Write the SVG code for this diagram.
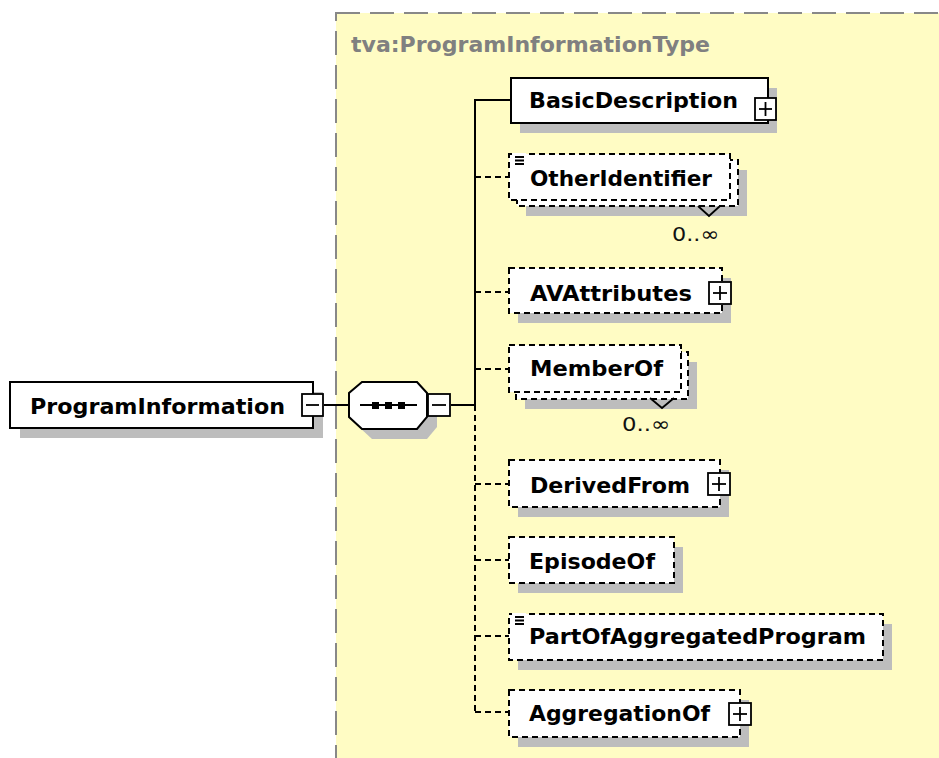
<svg xmlns="http://www.w3.org/2000/svg" width="939" height="758" viewBox="0 0 939 758">
<style>
.lbl{font-family:"DejaVu Sans","Liberation Sans",sans-serif;font-weight:bold;font-size:22px;fill:#000}
.title{font-family:"DejaVu Sans","Liberation Sans",sans-serif;font-weight:bold;font-size:22px;fill:#808080}
.card{font-family:"DejaVu Sans","Liberation Sans",sans-serif;font-size:20px;fill:#111}
.box{fill:#fff;stroke:#000;stroke-width:2}
.opt{fill:#fff;stroke:#000;stroke-width:2;stroke-dasharray:6 4}
.sh{fill:#bdbdbd}
.btn{fill:#fff;stroke:#000;stroke-width:1.8}
.sol{stroke:#000;stroke-width:2;fill:none}
.dsh{stroke:#000;stroke-width:2;fill:none;stroke-dasharray:6 4}
.thin{stroke:#000;stroke-width:1.8;fill:none}
</style>
<rect x="0" y="0" width="939" height="758" fill="#fff"/>
<g id="type-region">
<rect x="336" y="13" width="700" height="800" fill="#fffcc4" stroke="#888" stroke-width="2" stroke-dasharray="24 10"/>
<text class="title" x="351" y="52" textLength="359" lengthAdjust="spacingAndGlyphs">tva:ProgramInformationType</text>
</g>
<g id="connectors">
<line class="sol" x1="324" y1="405" x2="349" y2="405"/>
<line class="sol" x1="451" y1="405" x2="475" y2="405"/>
<polyline class="sol" points="511,100 475,100 475,405"/>
<line class="dsh" x1="475" y1="405" x2="475" y2="712"/>
<line class="dsh" x1="475" y1="177" x2="509" y2="177"/>
<line class="dsh" x1="475" y1="292" x2="509" y2="292"/>
<line class="dsh" x1="475" y1="369" x2="509" y2="369"/>
<line class="dsh" x1="475" y1="484" x2="509" y2="484"/>
<line class="dsh" x1="475" y1="560" x2="509" y2="560"/>
<line class="dsh" x1="475" y1="636" x2="509" y2="636"/>
<line class="dsh" x1="475" y1="712" x2="509" y2="712"/>
</g>
<g id="ProgramInformation">
<rect class="sh" x="20" y="392" width="303" height="46"/>
<rect class="box" x="10" y="382" width="303" height="46"/>
<text class="lbl" x="30" y="414" textLength="255" lengthAdjust="spacingAndGlyphs">ProgramInformation</text>
<rect class="btn" x="302" y="394" width="21" height="22"/>
<line class="thin" x1="306" y1="405" x2="319" y2="405"/>
</g>
<g id="sequence">
<polygon class="sh" points="372,392 427,392 437,403 437,427 427,439 372,439 359,427 359,403"/>
<polygon class="box" points="362,382 417,382 427,393 427,417 417,429 362,429 349,417 349,393"/>
<line class="thin" x1="360" y1="405" x2="417" y2="405"/>
<rect x="372" y="402" width="7" height="7" fill="#000"/>
<rect x="385" y="402" width="7" height="7" fill="#000"/>
<rect x="398" y="402" width="7" height="7" fill="#000"/>
<rect class="btn" x="428" y="394" width="22" height="22"/>
<line class="thin" x1="432" y1="405" x2="446" y2="405"/>
</g>
<g id="BasicDescription">
<rect class="sh" x="520" y="88" width="257" height="45"/>
<rect class="box" x="511" y="78" width="257" height="45"/>
<text class="lbl" x="529" y="108" textLength="209" lengthAdjust="spacingAndGlyphs">BasicDescription</text>
<rect class="btn" x="755" y="98" width="21" height="22"/>
<line class="thin" x1="759" y1="109" x2="772" y2="109"/>
<line class="thin" x1="765.5" y1="102" x2="765.5" y2="116"/>
</g>
<g id="OtherIdentifier">
<rect class="sh" x="526" y="170" width="221" height="46"/>
<rect class="opt" x="517" y="160" width="221" height="46"/>
<rect class="opt" x="509" y="154" width="221" height="46"/>
<polyline class="thin" points="698,206 709,216 720,206"/>
<rect x="512" y="153" width="14" height="12" fill="#fff"/>
<path class="thin" d="M515 157h9M515 160.5h9M515 164h9" stroke-width="1.3"/>
<text class="lbl" x="530" y="186" textLength="182" lengthAdjust="spacingAndGlyphs">OtherIdentifier</text>
<text class="card" x="672" y="241" textLength="47" lengthAdjust="spacingAndGlyphs">0..∞</text>
</g>
<g id="AVAttributes">
<rect class="sh" x="518" y="278" width="213" height="45"/>
<rect class="opt" x="509" y="268" width="213" height="45"/>
<text class="lbl" x="530" y="301" textLength="162" lengthAdjust="spacingAndGlyphs">AVAttributes</text>
<rect class="btn" x="709" y="282" width="22" height="22"/>
<line class="thin" x1="713" y1="293" x2="727" y2="293"/>
<line class="thin" x1="720" y1="286" x2="720" y2="300"/>
</g>
<g id="MemberOf">
<rect class="sh" x="525" y="362" width="172" height="47"/>
<rect class="opt" x="516" y="352" width="172" height="47"/>
<rect class="opt" x="509" y="345" width="172" height="47"/>
<polyline class="thin" points="650,398 662,408 674,398"/>
<text class="lbl" x="530" y="376" textLength="133" lengthAdjust="spacingAndGlyphs">MemberOf</text>
<text class="card" x="622" y="431" textLength="48" lengthAdjust="spacingAndGlyphs">0..∞</text>
</g>
<g id="DerivedFrom">
<rect class="sh" x="518" y="470" width="211" height="47"/>
<rect class="opt" x="509" y="460" width="211" height="47"/>
<text class="lbl" x="530" y="493" textLength="160" lengthAdjust="spacingAndGlyphs">DerivedFrom</text>
<rect class="btn" x="708" y="473" width="22" height="22"/>
<line class="thin" x1="712" y1="484" x2="726" y2="484"/>
<line class="thin" x1="719" y1="477" x2="719" y2="491"/>
</g>
<g id="EpisodeOf">
<rect class="sh" x="518" y="547" width="165" height="46"/>
<rect class="opt" x="509" y="537" width="165" height="46"/>
<text class="lbl" x="529" y="569" textLength="126" lengthAdjust="spacingAndGlyphs">EpisodeOf</text>
</g>
<g id="PartOfAggregatedProgram">
<rect class="sh" x="518" y="624" width="374" height="46"/>
<rect class="opt" x="509" y="614" width="374" height="46"/>
<rect x="512" y="613" width="14" height="12" fill="#fff"/>
<path class="thin" d="M515 617h9M515 620.5h9M515 624h9" stroke-width="1.3"/>
<text class="lbl" x="529" y="644" textLength="337" lengthAdjust="spacingAndGlyphs">PartOfAggregatedProgram</text>
</g>
<g id="AggregationOf">
<rect class="sh" x="518" y="700" width="231" height="47"/>
<rect class="opt" x="509" y="690" width="231" height="47"/>
<text class="lbl" x="529" y="721" textLength="181" lengthAdjust="spacingAndGlyphs">AggregationOf</text>
<rect class="btn" x="729" y="703" width="22" height="22"/>
<line class="thin" x1="733" y1="714" x2="747" y2="714"/>
<line class="thin" x1="740" y1="707" x2="740" y2="721"/>
</g>
</svg>
